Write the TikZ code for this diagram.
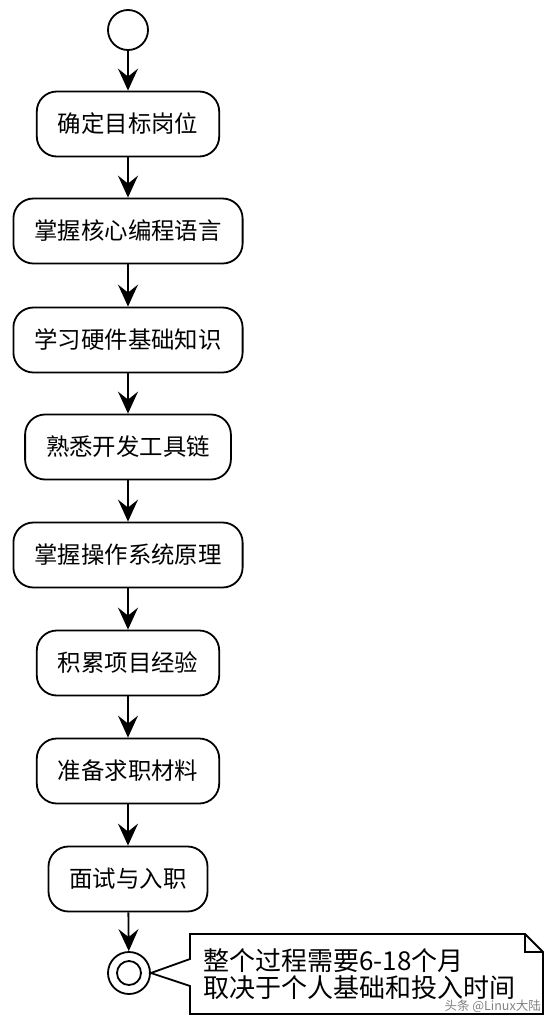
\documentclass[tikz,border=0pt]{standalone}
\usepackage{fontspec}
\setmainfont{Noto Sans CJK SC}
\usetikzlibrary{arrows.meta,positioning}

\tikzset{
  stepbox/.style = {draw, line width=1.8pt, rounded corners=20pt,
    minimum height=65pt, inner xsep=21pt,
    font=\fontsize{23.4}{26}\selectfont},
  flow/.style = {line width=1.8pt,
    -{Stealth[length=22pt,width=20pt,inset=8pt]}}
}

\begin{document}
\begin{tikzpicture}[x=1pt,y=-1pt]
    \useasboundingbox (0,0) rectangle (556,1026);
    \node[draw, circle, line width=1.8pt, minimum size=40pt, inner sep=0pt] (start) at (128,30) {};
    \node[stepbox] (target)   at (128,124) {确定目标岗位};
    \node[stepbox] (lang)     at (128,231) {掌握核心编程语言};
    \node[stepbox] (hardware) at (128,340) {学习硬件基础知识};
    \node[stepbox] (tools)    at (128,447) {熟悉开发工具链};
    \node[stepbox] (os)       at (128,555) {掌握操作系统原理};
    \node[stepbox] (project)  at (128,663) {积累项目经验};
    \node[stepbox] (resume)   at (128,771) {准备求职材料};
    \node[stepbox] (job)      at (128,879) {面试与入职};
    \node[draw, circle, line width=1.8pt, minimum size=42pt, inner sep=0pt] (stop) at (129,973) {};
    \node[draw, circle, line width=1.8pt, minimum size=24pt, inner sep=0pt] (stopin) at (stop) {};
    % arrows
    \draw[flow] (start) -- (target);
    \draw[flow] (target) -- (lang);
    \draw[flow] (lang) -- (hardware);
    \draw[flow] (hardware) -- (tools);
    \draw[flow] (tools) -- (os);
    \draw[flow] (os) -- (project);
    \draw[flow] (project) -- (resume);
    \draw[flow] (resume) -- (job);
    \draw[flow] (job) -- (stop);
    % note
    \draw[line width=1.8pt, line join=miter] (190,934) -- (525,934) -- (543,952) -- (543,1014)
        -- (190,1014) -- (190,986) -- (stop.east) -- (190,959) -- cycle;
    \draw[line width=1.5pt] (525,934) -- (525,952) -- (543,952);
    \node[anchor=west, align=left, inner sep=0pt,
      font=\fontsize{26}{27}\selectfont] (note) at (203,974)
      {整个过程需要6-18个月\\取决于个人基础和投入时间};
    \node[text=gray, font=\fontsize{12.5}{12.5}\selectfont, inner sep=0pt, anchor=east] (mark) at (541,1006) {头条 @Linux大陆};
\end{tikzpicture}
\end{document}
